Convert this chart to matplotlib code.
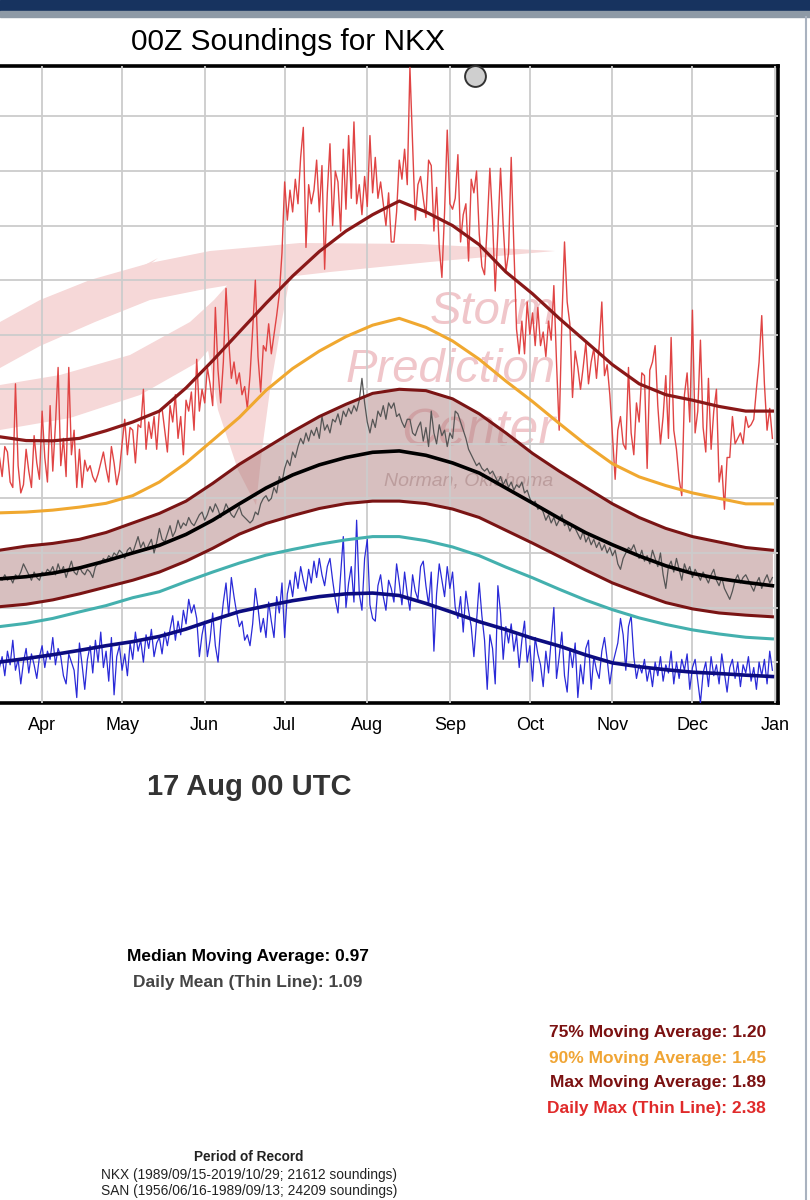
import matplotlib
matplotlib.use("Agg")
import matplotlib.pyplot as plt
import numpy as np
from matplotlib.patches import Polygon, Rectangle

plt.rcParams["font.family"] = ["Liberation Sans", "DejaVu Sans"]

W, H = 810, 1200

# ---- data (precipitable water, inches) ----
month_days = [90, 120, 151, 181, 212, 243, 273, 304, 334, 365]
month_labels = ["Apr", "May", "Jun", "Jul", "Aug", "Sep", "Oct", "Nov", "Dec", "Jan"]

first_day = 74          # day of year of the first daily value
ma_days = list(range(74, 365, 10))

max_ma = [1.026, 1.012, 1.011, 1.02, 1.048, 1.08, 1.12, 1.205, 1.305, 1.41,
          1.515, 1.615, 1.705, 1.78, 1.84, 1.89, 1.85, 1.80, 1.73, 1.63,
          1.55, 1.46, 1.375, 1.29, 1.22, 1.18, 1.16, 1.137, 1.12, 1.12]
p90 = [0.747, 0.75, 0.757, 0.768, 0.782, 0.81, 0.86, 0.93, 1.013, 1.097,
       1.196, 1.276, 1.34, 1.393, 1.435, 1.46, 1.427, 1.377, 1.31, 1.23,
       1.155, 1.075, 0.997, 0.927, 0.879, 0.847, 0.82, 0.80, 0.78, 0.78]
p75 = [0.61, 0.625, 0.635, 0.65, 0.675, 0.71, 0.745, 0.79, 0.855, 0.925,
       0.985, 1.045, 1.10, 1.145, 1.185, 1.20, 1.195, 1.165, 1.11, 1.04,
       0.965, 0.90, 0.84, 0.78, 0.73, 0.69, 0.66, 0.64, 0.62, 0.61]
median = [0.505, 0.513, 0.526, 0.545, 0.571, 0.60, 0.628, 0.668, 0.72, 0.78,
          0.838, 0.886, 0.923, 0.95, 0.969, 0.974, 0.958, 0.93, 0.893, 0.838,
          0.783, 0.727, 0.674, 0.63, 0.589, 0.553, 0.525, 0.506, 0.492, 0.48]
p25 = [0.403, 0.412, 0.428, 0.45, 0.475, 0.50, 0.53, 0.57, 0.617, 0.669,
       0.708, 0.737, 0.763, 0.781, 0.79, 0.79, 0.781, 0.761, 0.73, 0.683,
       0.636, 0.587, 0.537, 0.49, 0.453, 0.418, 0.395, 0.38, 0.372, 0.366]
p10 = [0.33, 0.342, 0.36, 0.384, 0.407, 0.436, 0.458, 0.495, 0.53, 0.563,
       0.592, 0.613, 0.632, 0.648, 0.66, 0.66, 0.645, 0.622, 0.59, 0.548,
       0.509, 0.467, 0.427, 0.392, 0.362, 0.338, 0.318, 0.303, 0.291, 0.285]
min_ma = [0.20, 0.213, 0.227, 0.243, 0.26, 0.275, 0.294, 0.321, 0.354, 0.385,
          0.406, 0.425, 0.44, 0.45, 0.453, 0.444, 0.415, 0.382, 0.348, 0.319,
          0.287, 0.259, 0.226, 0.197, 0.183, 0.172, 0.163, 0.158, 0.152, 0.147]

daily_max = [
    0.95, 0.88, 0.99, 0.97, 0.86, 0.84, 1.22, 0.92, 0.82, 0.85, 0.98, 0.90, 0.84, 1.03, 0.93, 0.87,
    1.12, 0.95, 0.86, 1.14, 0.90, 1.07, 1.28, 0.92, 1.02, 0.88, 1.28, 0.96, 1.05,
    0.84, 0.98, 0.84, 0.94, 0.90, 0.92, 0.88, 0.86, 0.89, 0.93, 0.97, 0.91, 0.86, 0.99, 0.93, 0.85, 0.90,
    1.00, 1.09, 0.96, 1.06, 1.05, 0.93, 1.07, 1.06, 1.20, 0.98, 1.08, 1.02, 1.10, 0.98, 1.12,
    1.13, 1.05, 0.97, 1.14, 1.08, 1.18, 1.02, 1.10, 0.96, 1.16, 1.12, 1.19, 1.05, 1.31, 1.12,
    1.20, 1.15, 1.28, 1.22, 1.14, 1.50, 1.27, 1.15, 1.30, 1.57, 1.38, 1.24, 1.30, 1.22, 1.26, 1.18,
    1.21, 1.13, 1.25,
    1.42, 1.60, 1.32, 1.19, 1.36, 1.34, 1.44, 1.33, 1.40, 1.47, 1.55, 1.70,
    1.96, 1.82, 1.93, 1.85, 1.97, 1.88, 2.05, 2.16,
    1.72, 1.95, 1.88, 1.93, 2.04, 1.85, 2.02, 1.64, 1.92, 2.10, 1.80, 2.00, 1.96, 1.78,
    2.08, 1.86, 2.13, 1.90, 2.18, 1.88, 1.95, 1.84, 1.98, 1.87, 2.13, 1.92, 2.05, 1.90, 1.96,
    1.88, 1.80, 1.92, 1.74, 1.74, 1.85, 2.04, 1.97, 2.08, 1.95, 2.38,
    2.10, 1.82, 1.95, 1.98, 1.90, 1.83, 2.04, 2.02, 1.78, 1.94, 1.72, 1.61, 1.85, 2.15, 1.88,
    1.86, 1.90, 2.06, 1.74, 1.84, 1.88, 1.67, 1.97, 1.92, 2.00, 1.77, 1.65, 1.62, 1.80, 2.01,
    1.82, 1.56, 1.78, 2.01, 1.80, 1.63, 1.70, 2.05, 1.72, 1.42, 1.33, 1.45, 1.33, 1.52, 1.40,
    1.48, 1.36, 1.50,
    1.36, 1.41, 1.32, 1.45, 1.38, 1.58, 1.30, 1.05, 1.45, 1.74, 1.52, 1.44, 1.17, 1.34, 1.28, 1.20,
    1.28, 1.37, 1.22, 1.30, 1.35, 1.24, 1.36, 1.52, 1.25, 1.29, 1.18, 1.03, 0.87, 1.05, 1.10,
    1.00, 0.98, 1.28, 1.04, 0.96, 1.15, 1.08, 1.26, 1.25, 0.91, 1.27, 1.30, 1.36, 1.14, 1.00,
    1.10, 1.25, 1.02, 1.39, 1.05, 0.98, 0.87, 0.81, 1.18, 1.26, 1.08, 1.49, 1.04, 1.12, 1.38,
    1.06, 0.97, 1.24, 0.98, 1.12, 1.20, 0.86, 0.92, 0.76, 0.95, 0.95, 1.10, 1.00, 1.02, 1.04,
    1.00, 1.10, 1.06, 1.07, 1.09, 1.20, 1.30, 1.47, 1.22, 1.05, 1.13, 1.02,
]

daily_mean = [
    0.51, 0.50, 0.52, 0.50, 0.51, 0.49, 0.52, 0.51, 0.53, 0.56, 0.54, 0.52, 0.50, 0.53, 0.51, 0.50,
    0.53, 0.52, 0.54, 0.53, 0.55, 0.52, 0.56, 0.53, 0.55, 0.51, 0.54, 0.57, 0.53, 0.52, 0.55, 0.53,
    0.52, 0.54, 0.53, 0.51, 0.55, 0.56,
    0.56, 0.58, 0.57, 0.59, 0.58, 0.60, 0.59, 0.61, 0.60, 0.58, 0.61, 0.62, 0.60,
    0.63, 0.66, 0.62, 0.64, 0.61, 0.63, 0.65, 0.60, 0.64, 0.69, 0.65,
    0.64, 0.67, 0.70, 0.66, 0.68, 0.72, 0.69, 0.71, 0.70, 0.73, 0.71, 0.70, 0.72, 0.74,
    0.75, 0.72, 0.74, 0.77, 0.75, 0.78, 0.76, 0.73, 0.75, 0.78, 0.76, 0.74, 0.73,
    0.75, 0.77, 0.74, 0.73, 0.72, 0.71, 0.72, 0.75, 0.74, 0.78, 0.80, 0.81, 0.79,
    0.80, 0.84, 0.82, 0.88, 0.86, 0.91, 0.94, 0.92, 0.97, 0.95, 0.99,
    1.02, 1.00, 1.04, 1.01, 1.05, 1.03, 1.06, 1.02,
    1.10, 1.05, 1.07, 1.04, 1.09, 1.08, 1.11, 1.07, 1.12, 1.10, 1.13, 1.11, 1.14, 1.12, 1.16, 1.24,
    1.15, 1.08, 1.04, 1.09, 1.06, 1.12,
    1.10, 1.14, 1.09, 1.15, 1.13, 1.15, 1.10, 1.11,
    1.08, 1.06, 1.09, 1.09, 1.04, 1.03, 1.06, 1.08,
    1.01, 1.06, 0.99, 1.12, 1.04, 1.00,
    1.07, 1.03, 1.05, 0.99, 1.04, 1.02, 1.12, 1.11, 1.08,
    1.05, 1.02, 0.98, 0.96, 0.94, 0.92, 0.93, 0.91, 0.90, 0.91,
    0.89, 0.90, 0.88, 0.86, 0.88, 0.85, 0.87, 0.84, 0.86, 0.83, 0.85, 0.84, 0.86, 0.82, 0.83,
    0.80, 0.78, 0.79, 0.76, 0.77,
    0.75, 0.72, 0.74, 0.71, 0.73, 0.70, 0.72, 0.74, 0.70, 0.71, 0.68, 0.70,
    0.69, 0.67, 0.65, 0.68, 0.64, 0.66, 0.63, 0.65, 0.62, 0.64, 0.61, 0.63, 0.60, 0.62, 0.59,
    0.61, 0.56, 0.54, 0.58, 0.60, 0.62, 0.61, 0.63, 0.60, 0.58, 0.61, 0.57, 0.59, 0.56, 0.61, 0.58,
    0.55, 0.60, 0.52, 0.47, 0.55, 0.57, 0.53, 0.58, 0.54, 0.50, 0.56, 0.53, 0.55, 0.51, 0.54,
    0.52, 0.50, 0.53, 0.51, 0.49, 0.52, 0.54, 0.50, 0.48, 0.51, 0.47, 0.45, 0.43, 0.46, 0.50,
    0.52, 0.49, 0.51, 0.52, 0.50, 0.48, 0.46, 0.49, 0.51, 0.47, 0.50, 0.52, 0.49, 0.51,
]

daily_min = [
    0.18, 0.22, 0.15, 0.24, 0.19, 0.28, 0.17, 0.21, 0.12, 0.20, 0.25, 0.16, 0.23, 0.19, 0.14, 0.22,
    0.26, 0.18, 0.24, 0.21, 0.29, 0.19, 0.25, 0.22, 0.15, 0.12, 0.23, 0.20, 0.17, 0.07,
    0.27, 0.19, 0.10, 0.21, 0.26, 0.16, 0.28, 0.20, 0.31, 0.18, 0.24, 0.13, 0.29, 0.08, 0.22, 0.26,
    0.17, 0.23, 0.15,
    0.27, 0.21, 0.31, 0.24, 0.28, 0.20, 0.30, 0.25, 0.32, 0.22, 0.27, 0.29, 0.23, 0.31, 0.26,
    0.32, 0.37, 0.28, 0.35, 0.30, 0.39, 0.34, 0.43, 0.38, 0.41, 0.36, 0.22,
    0.30, 0.35, 0.22, 0.28, 0.38, 0.26, 0.20,
    0.33, 0.42, 0.49, 0.37, 0.51, 0.44, 0.38, 0.33, 0.35, 0.28, 0.30, 0.26,
    0.34, 0.47, 0.40, 0.31, 0.36, 0.29, 0.42, 0.35,
    0.29, 0.44, 0.38, 0.49,
    0.29, 0.45, 0.50, 0.44, 0.53, 0.47, 0.55, 0.50, 0.46, 0.54, 0.49, 0.57, 0.51, 0.58, 0.52, 0.48,
    0.55, 0.58, 0.50,
    0.43, 0.38, 0.52, 0.66, 0.40, 0.49, 0.55,
    0.42, 0.72, 0.45, 0.39, 0.58, 0.65, 0.41,
    0.36, 0.35, 0.48, 0.52, 0.44, 0.39, 0.50, 0.47, 0.42, 0.56, 0.49, 0.41, 0.53, 0.45, 0.39,
    0.52, 0.46, 0.43, 0.55, 0.57, 0.48, 0.41, 0.53, 0.24, 0.45, 0.56,
    0.50, 0.44, 0.55, 0.47, 0.53, 0.40, 0.36, 0.44, 0.31, 0.46, 0.39, 0.33, 0.22, 0.35, 0.49,
    0.37, 0.28, 0.10, 0.30, 0.25, 0.12, 0.48, 0.38, 0.21, 0.33, 0.27, 0.34, 0.24, 0.30, 0.18,
    0.28, 0.35, 0.20, 0.26, 0.13, 0.29, 0.23, 0.19,
    0.11, 0.24, 0.16, 0.28, 0.40, 0.14, 0.22, 0.31, 0.15, 0.09, 0.25, 0.18, 0.27, 0.07,
    0.19, 0.12, 0.25, 0.28, 0.10, 0.22, 0.17, 0.14, 0.24, 0.29, 0.21, 0.12, 0.19, 0.23,
    0.27, 0.36, 0.30, 0.17, 0.33, 0.37, 0.22, 0.14, 0.19, 0.16, 0.21, 0.13,
    0.18, 0.11, 0.20, 0.15, 0.22, 0.13, 0.19, 0.16, 0.24, 0.12, 0.20, 0.14, 0.21, 0.17, 0.23, 0.10,
    0.18, 0.21, 0.13, 0.05, 0.16, 0.20, 0.11, 0.22, 0.15, 0.19, 0.12, 0.23, 0.16, 0.09, 0.18, 0.21,
    0.14, 0.20, 0.11, 0.19, 0.16, 0.22, 0.13, 0.18, 0.10, 0.20, 0.15, 0.21, 0.12, 0.24, 0.17,
]

marker_day, marker_val = 252.4, 2.35

stat_label = "17 Aug 00 UTC"
stat_median, stat_mean = 0.97, 1.09
stat_p75, stat_p90, stat_max_ma, stat_daily_max = 1.20, 1.45, 1.89, 2.38


def fx(x):
    return x / W


def fy(y):
    return 1 - y / H


def plot():
    fig = plt.figure(figsize=(W / 100, H / 100), dpi=100)

    # page header strip and right border
    fig.add_artist(Rectangle((0, fy(11)), 1, 11 / H, transform=fig.transFigure,
                             color="#17335f", zorder=0))
    fig.add_artist(Rectangle((0, fy(17)), 1, 6 / H, transform=fig.transFigure,
                             color="#8e9aa6", zorder=0))
    fig.add_artist(plt.Line2D([fx(806), fx(806)], [0, fy(17)], transform=fig.transFigure,
                              color="#a9b2bf", lw=1.5))

    ax = fig.add_axes([0, fy(703), fx(778), (703 - 66) / H])

    # faint SPC logo watermark (decoration, in page pixels)
    def poly(pts, fc, z=0.6):
        p = Polygon([(fx(a), fy(b)) for a, b in pts], closed=True, transform=fig.transFigure,
                    fc=fc, ec="none", zorder=z)
        ax.add_patch(p)

    pink = "#f6d8d8"
    # upper arm sweeping into the long band
    poly([(0, 322), (40, 300), (90, 280), (150, 263), (210, 251), (300, 243), (420, 244),
          (555, 251), (430, 262), (330, 272), (260, 280), (200, 290), (150, 300), (95, 322),
          (40, 346), (0, 368)], pink)
    # down stroke
    poly([(248, 262), (295, 250), (282, 320), (270, 390), (262, 450), (256, 505),
          (238, 470), (218, 410), (208, 350), (214, 300)], pink)
    # lower crescent under the eye
    poly([(0, 385), (60, 375), (130, 355), (190, 322), (214, 300), (222, 335), (198, 362),
          (140, 395), (70, 418), (0, 430)], pink)
    # thin tip above the arm
    poly([(110, 285), (135, 270), (158, 258), (140, 272)], pink)

    wm = dict(ha="right", va="center", style="italic", transform=fig.transFigure, zorder=0.8)
    ax.text(fx(556), fy(312), "Storm", fontsize=34, color="#f0c6ca", **wm)
    ax.text(fx(556), fy(370), "Prediction", fontsize=34, color="#f0c6ca", **wm)
    ax.text(fx(556), fy(432), "Center", fontsize=37, color="#f0c6ca", **wm)
    ax.text(fx(553), fy(481), "Norman, Oklahoma", fontsize=14, color="#c9bbbb", **wm)

    d_ma = np.array(ma_days)
    d_max = first_day + np.arange(len(daily_max))
    d_mean = first_day + np.arange(len(daily_mean))
    d_min = first_day + np.arange(len(daily_min))

    ax.fill_between(d_ma, p25, p75, color="#b08080", alpha=0.5, lw=0, zorder=2)
    ax.plot(d_max, daily_max, color="#e04444", lw=1.0, zorder=3)
    ax.plot(d_ma, max_ma, color="#8a1818", lw=2.3, zorder=4)
    ax.plot(d_ma, p90, color="#f0a830", lw=2.2, zorder=4)
    ax.plot(d_ma, p75, color="#7a1414", lw=2.2, zorder=4)
    ax.plot(d_ma, p25, color="#7a1414", lw=2.2, zorder=4)
    ax.plot(d_mean, daily_mean, color="#555555", lw=0.9, zorder=3)
    ax.plot(d_ma, median, color="black", lw=2.6, zorder=4)
    ax.plot(d_ma, p10, color="#44b0ae", lw=2.2, zorder=4)
    ax.plot(d_min, daily_min, color="#2a2ad8", lw=0.9, zorder=3)
    ax.plot(d_ma, min_ma, color="#0c0c80", lw=2.6, zorder=4)
    ax.plot([marker_day], [marker_val], "o", ms=15, mfc="#cfcfcf", mec="#333333", mew=1.4,
            clip_on=False, zorder=10)

    ax.set_xlim(74.2, 366.1)
    ax.set_ylim(0.05, 2.385)
    ax.set_xticks(month_days)
    ax.set_xticklabels(month_labels)
    ax.set_yticks(np.arange(0.2, 2.3, 0.2))
    ax.set_yticklabels([])
    ax.tick_params(length=0, labelsize=13, pad=10)
    ax.grid(True, color="#cccccc", lw=1.3, zorder=1)
    ax.set_axisbelow(False)
    for side in ["top", "right", "bottom"]:
        ax.spines[side].set_linewidth(2.6)
        ax.spines[side].set_color("black")
    ax.spines["left"].set_visible(False)

    # titles and stats
    fig.text(fx(288), fy(42), "00Z Soundings for NKX", fontsize=21.5, ha="center", va="center")
    fig.text(fx(249), fy(787), stat_label, fontsize=21, weight="bold", color="#333333",
             ha="center", va="center")
    fig.text(fx(248), fy(957), f"Median Moving Average: {stat_median:.2f}", fontsize=12.5,
             weight="bold", color="black", ha="center", va="center")
    fig.text(fx(248), fy(983), f"Daily Mean (Thin Line): {stat_mean:.2f}", fontsize=12.5,
             weight="bold", color="#444444", ha="center", va="center")
    right = [
        (1033, f"75% Moving Average: {stat_p75:.2f}", "#7b1111"),
        (1058, f"90% Moving Average: {stat_p90:.2f}", "#f0a535"),
        (1083, f"Max Moving Average: {stat_max_ma:.2f}", "#7b1111"),
        (1108, f"Daily Max (Thin Line): {stat_daily_max:.2f}", "#e02a2a"),
    ]
    for y, s, c in right:
        fig.text(fx(766), fy(y), s, fontsize=12.5, weight="bold", color=c,
                 ha="right", va="center")
    fig.text(fx(249), fy(1157), "Period of Record", fontsize=9.8, weight="bold",
             color="#222222", ha="center", va="center")
    fig.text(fx(249), fy(1175), "NKX (1989/09/15-2019/10/29; 21612 soundings)", fontsize=9.9,
             color="#222222", ha="center", va="center")
    fig.text(fx(249), fy(1191), "SAN (1956/06/16-1989/09/13; 24209 soundings)", fontsize=9.9,
             color="#222222", ha="center", va="center")

    fig.savefig("out.png", dpi=100)


if __name__ == "__main__":
    plot()
